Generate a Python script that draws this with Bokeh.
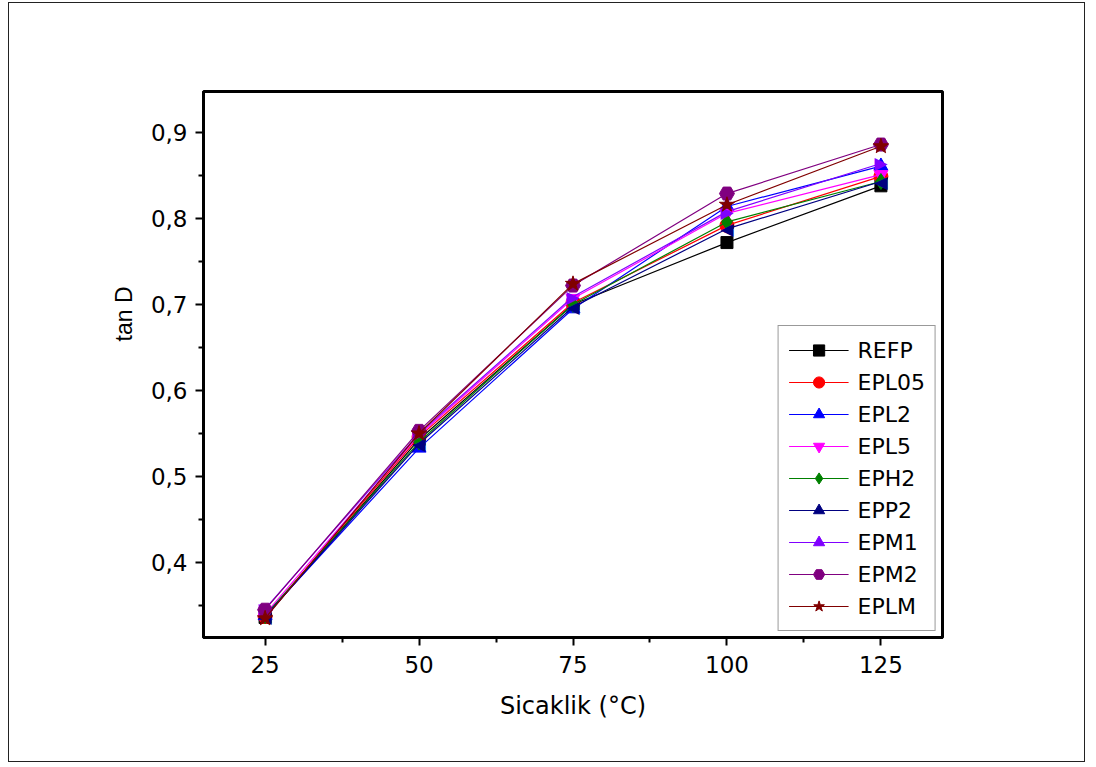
import math
from bokeh.plotting import figure
from bokeh.models import FixedTicker, Legend, Title
from bokeh.core.properties import value
from bokeh.embed import file_html
from bokeh.resources import INLINE

temps = [25, 50, 75, 100, 125]
series_names = ["REFP", "EPL05", "EPL2", "EPL5", "EPH2", "EPP2", "EPM1", "EPM2", "EPLM"]
refp  = [0.336, 0.543, 0.700, 0.772, 0.838]
epl05 = [0.337, 0.546, 0.702, 0.792, 0.849]
epl2  = [0.338, 0.533, 0.695, 0.814, 0.861]
epl5  = [0.340, 0.548, 0.707, 0.806, 0.851]
eph2  = [0.338, 0.540, 0.700, 0.796, 0.843]
epp2  = [0.337, 0.538, 0.697, 0.788, 0.843]
epm1  = [0.346, 0.550, 0.709, 0.808, 0.864]
epm2  = [0.345, 0.553, 0.722, 0.829, 0.886]
eplm  = [0.335, 0.550, 0.724, 0.816, 0.884]
series_values = [refp, epl05, epl2, epl5, eph2, epp2, epm1, epm2, eplm]

x_ticks = [25, 50, 75, 100, 125]
x_minor = [37.5, 62.5, 87.5, 112.5]
y_ticks = [0.4, 0.5, 0.6, 0.7, 0.8, 0.9]
y_tick_labels = ["0,4", "0,5", "0,6", "0,7", "0,8", "0,9"]
y_minor = [0.35, 0.45, 0.55, 0.65, 0.75, 0.85]

colors = ["#000000", "#FF0000", "#0000FF", "#FF00FF", "#008000",
          "#000080", "#8000FF", "#800080", "#800000"]
markers = ["square", "circle", "triangle", "inverted_triangle", "diamond",
           "◀", "▶", "hex", "star"]
sizes = [12, 14, 14, 14, 16, 14, 14, 15, 16]

FONT = "DejaVu Sans"

p = figure(width=1077, height=760, output_backend="svg", toolbar_location=None,
           x_range=(15, 135), y_range=(0.3127, 0.9477),
           min_border_left=194, min_border_right=144,
           min_border_top=88, min_border_bottom=126,
           styles={"margin-left": "8px", "margin-top": "2px",
                   "border": "1.5px solid #222222"})
p.grid.visible = False
p.outline_line_color = "black"
p.outline_line_width = 3

legend_items = []
for name, vals, c, m, s in zip(series_names, series_values, colors, markers, sizes):
    r1 = p.line(temps, vals, line_color=c, line_width=1.2)
    if len(m) == 1:
        r2 = p.text(x=temps, y=vals, text=[m] * len(temps), text_color=c,
                    text_align="center", text_baseline="middle",
                    text_font=value("DejaVu Sans"), text_font_size="17px")
        r3 = p.scatter(x=[float("nan")], y=[float("nan")], marker="triangle",
                       size=s, fill_color=c, line_color=c)
        legend_items.append((name, [r1, r2, r3]))
    else:
        r2 = p.scatter(x=temps, y=vals, marker=m, size=s, fill_color=c, line_color=c)
        legend_items.append((name, [r1, r2]))

legend = Legend(items=legend_items, location="bottom_right")
legend.label_text_font = FONT
legend.label_text_font_size = "22px"
legend.label_text_color = "black"
legend.glyph_width = 60
legend.glyph_height = 28
legend.label_height = 28
legend.spacing = 4
legend.padding = 10
legend.margin = 6
legend.border_line_color = "#333333"
legend.border_line_width = 1.5
legend.label_standoff = 9
p.add_layout(legend, "center")

for ax in (p.xaxis[0], p.yaxis[0]):
    ax.axis_line_width = 3
    ax.axis_line_color = "black"
    ax.major_tick_line_width = 2
    ax.minor_tick_line_width = 2
    ax.major_tick_out = 8
    ax.major_tick_in = 0
    ax.minor_tick_out = 5
    ax.minor_tick_in = 0
    ax.major_label_text_font = FONT
    ax.major_label_text_font_size = "23px"
    ax.major_label_text_color = "black"
    ax.axis_label_text_font = FONT
    ax.axis_label_text_font_size = "24px"
    ax.axis_label_text_font_style = "normal"
    ax.axis_label_text_color = "black"

p.xaxis.ticker = FixedTicker(ticks=x_ticks, minor_ticks=x_minor)
p.yaxis.ticker = FixedTicker(ticks=y_ticks, minor_ticks=y_minor)
p.yaxis.major_label_overrides = {t: l for t, l in zip(y_ticks, y_tick_labels)}
p.xaxis.major_label_standoff = 10
p.yaxis.major_label_standoff = 8
p.xaxis.axis_label = "Sicaklik (°C)"
p.xaxis.axis_label_standoff = 16

ytitle = Title(text="tan D", align="right", offset=195, standoff=22,
               text_font="Liberation Sans", text_font_size="23px",
               text_font_style="normal", text_color="black")
p.add_layout(ytitle, "left")

open("out.html", "w").write(file_html(p, INLINE))
